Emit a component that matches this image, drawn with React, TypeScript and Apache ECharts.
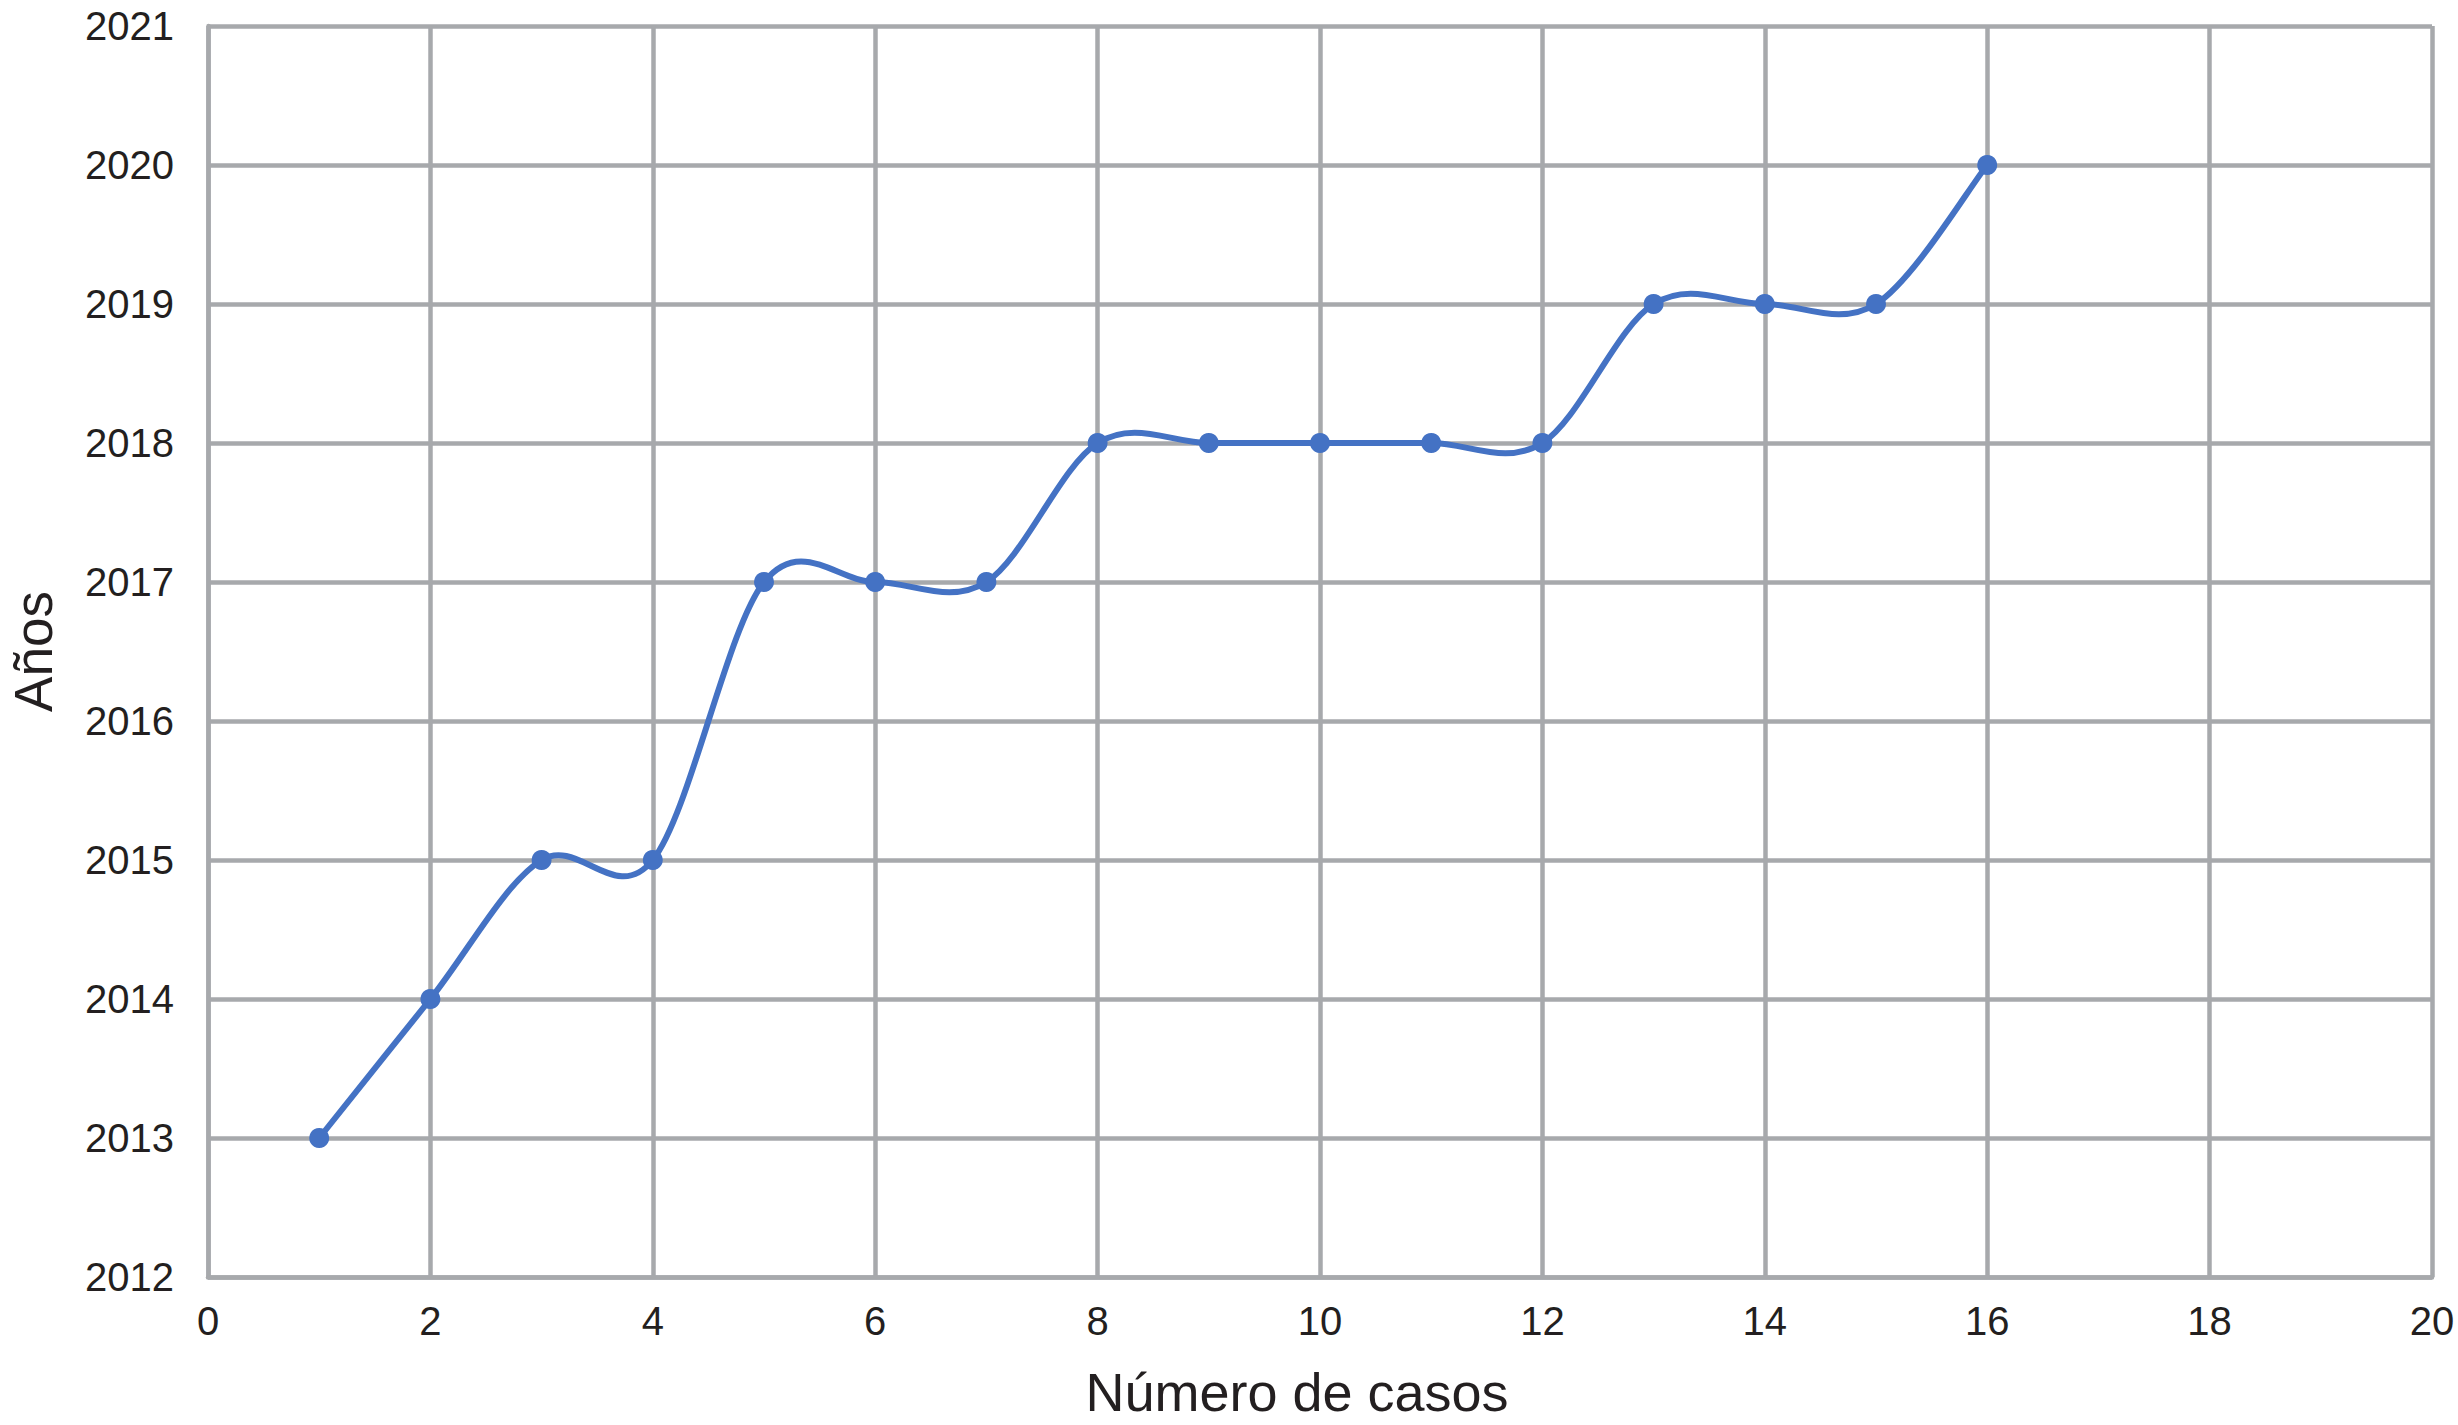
import React, { useEffect, useRef } from "react";
import * as echarts from "echarts";

const casos = [1, 2, 3, 4, 5, 6, 7, 8, 9, 10, 11, 12, 13, 14, 15, 16];
const anios = [2013, 2014, 2015, 2015, 2017, 2017, 2017, 2018, 2018, 2018, 2018, 2018, 2019, 2019, 2019, 2020];
const xAxisTitle = "Número de casos";
const yAxisTitle = "Años";

export default function App() {
  const ref = useRef<HTMLDivElement>(null);
  useEffect(() => {
    if (!ref.current) return;
    const chart = echarts.init(ref.current, undefined, { renderer: "svg" });
    const gridColor = "#a7a9ac";
    const textColor = "#231f20";
    const lineColor = "#4472c4";
    const font = "Liberation Sans, Arial, Helvetica, sans-serif";
    const points = casos.map((c, i) => [c, anios[i]]);
    const n = points.length;

    const renderSegment = (params: any, api: any) => {
      const i = params.dataIndex;
      if (i >= n - 1) return null;
      const P = (j: number) => {
        const k = Math.max(0, Math.min(n - 1, j));
        return api.coord(points[k]);
      };
      const p0 = P(i - 1);
      const p1 = P(i);
      const p2 = P(i + 1);
      const p3 = P(i + 2);
      const cp1x = p1[0] + (p2[0] - p0[0]) / 6;
      const cp1y = p1[1] + (p2[1] - p0[1]) / 6;
      const cp2x = p2[0] - (p3[0] - p1[0]) / 6;
      const cp2y = p2[1] - (p3[1] - p1[1]) / 6;
      return {
        type: "bezierCurve",
        shape: {
          x1: p1[0],
          y1: p1[1],
          x2: p2[0],
          y2: p2[1],
          cpx1: cp1x,
          cpy1: cp1y,
          cpx2: cp2x,
          cpy2: cp2y,
        },
        style: { stroke: lineColor, lineWidth: 6, fill: "none", lineCap: "round" },
      };
    };

    chart.setOption({
      animation: false,
      backgroundColor: "#ffffff",
      grid: { left: 208, right: 26, top: 26, bottom: 148, containLabel: false, outerBoundsMode: "none" },
      xAxis: {
        type: "value",
        min: 0,
        max: 20,
        interval: 2,
        name: xAxisTitle,
        nameLocation: "middle",
        nameGap: 88,
        nameTextStyle: { fontSize: 54, color: textColor, fontFamily: font, padding: [0, 46, 0, 0] },
        axisLine: { show: true, lineStyle: { color: gridColor, width: 4.5 } },
        axisTick: { show: false },
        axisLabel: { fontSize: 40, color: textColor, fontFamily: font, margin: 24 },
        splitLine: { show: true, lineStyle: { color: gridColor, width: 4.5 } },
      },
      yAxis: {
        type: "value",
        min: 2012,
        max: 2021,
        interval: 1,
        name: yAxisTitle,
        nameLocation: "middle",
        nameGap: 148,
        nameRotate: 90,
        nameTextStyle: { fontSize: 53, color: textColor, fontFamily: font },
        axisLine: { show: true, lineStyle: { color: gridColor, width: 4.5 } },
        axisTick: { show: false },
        axisLabel: {
          fontSize: 40,
          color: textColor,
          fontFamily: font,
          margin: 34,
          formatter: (v: number) => String(v),
        },
        splitLine: { show: true, lineStyle: { color: gridColor, width: 4.5 } },
      },
      series: [
        {
          type: "custom",
          data: points,
          encode: { x: 0, y: 1 },
          renderItem: renderSegment,
          silent: true,
          z: 2,
        },
        {
          type: "scatter",
          data: points,
          symbol: "circle",
          symbolSize: 20,
          itemStyle: { color: lineColor, opacity: 1 },
          z: 3,
        },
      ],
    });
    return () => chart.dispose();
  }, []);
  return (
    <div
      ref={ref}
      style={{ position: "fixed", left: 0, top: 0, width: 2458, height: 1425 }}
    />
  );
}
